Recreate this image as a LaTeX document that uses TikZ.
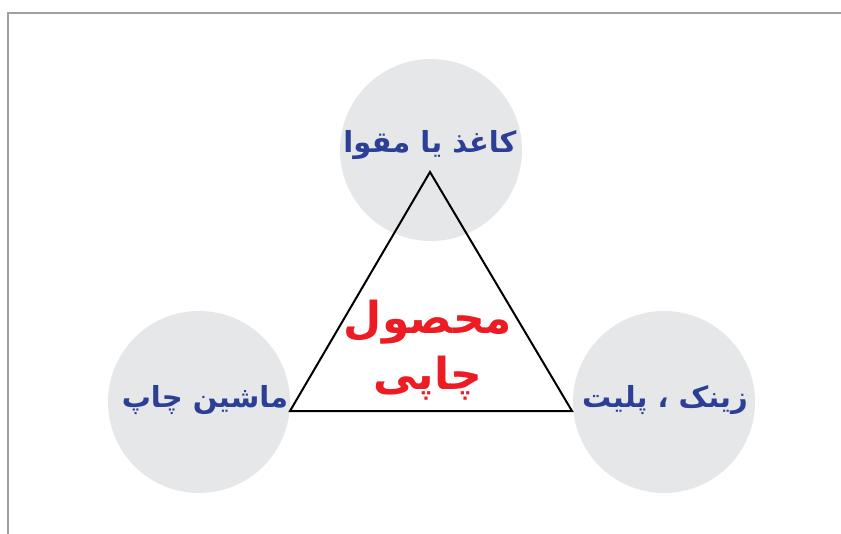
\documentclass[tikz,border=0pt]{standalone}
\usepackage{fontspec}
\newfontfamily\arabicfont[Script=Arabic]{DejaVu Sans}
\TeXXeTstate=1
\usepackage{xcolor}
\definecolor{labelblue}{RGB}{43,64,148}
\definecolor{centerred}{RGB}{237,28,36}
\definecolor{bubblegray}{RGB}{230,231,233}
\definecolor{framegray}{RGB}{160,160,160}
\tikzset{
  bubble/.style={circle,fill=bubblegray,minimum size=91pt,inner sep=0pt},
  partlabel/.style={font=\arabicfont\bfseries\fontsize{14.5}{18}\selectfont,text=labelblue},
  mainlabel/.style={font=\arabicfont\bfseries\fontsize{22}{28}\selectfont,text=centerred,align=center}
}
\begin{document}
\begin{tikzpicture}[x=0.5pt,y=-0.5pt]
\useasboundingbox (0,0) rectangle (841,534);
\draw[framegray,line width=1.2pt] (8,534)--(8,13)--(841,13);
\node[bubble] (paperc) at (431,150) {};
\node[bubble] (pressc) at (199,402) {};
\node[bubble] (platec) at (664,402) {};
\coordinate (top) at (430,172);
\coordinate (left) at (290,411);
\coordinate (right) at (572,411);
\draw[line width=1pt,line join=miter] (top)--(left)--(right)--cycle;
\node[partlabel] (paper) at (430,145) {\beginR کاغذ یا مقوا\endR};
\node[partlabel] (press) at (205,400) {\beginR ماشین چاپ\endR};
\node[partlabel] (plate) at (665,400) {\beginR زینک ، پلیت\endR};
\node[mainlabel] (product) at (428,350) {\beginR محصول\endR\\\beginR چاپی\endR};
\end{tikzpicture}
\end{document}
